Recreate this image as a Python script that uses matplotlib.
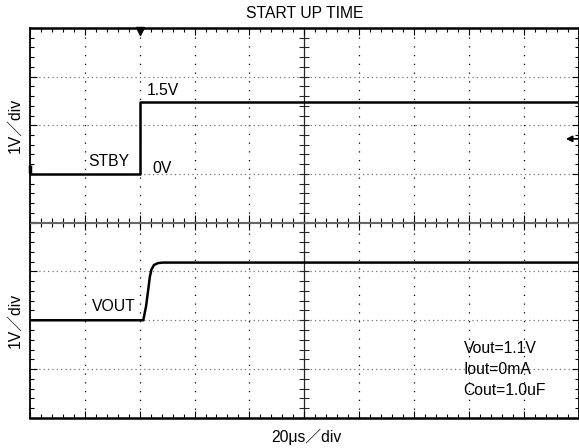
import numpy as np
import matplotlib
matplotlib.use("Agg")
import matplotlib.pyplot as plt
from matplotlib.ticker import MultipleLocator

plt.rcParams["font.family"] = ["Liberation Sans", "Noto Sans CJK JP", "DejaVu Sans"]

# time in µs (20 µs/div), level in V (1 V/div)
stby_t = [0, 40.2, 40.2, 200]
stby_v = [0, 0, 1.48, 1.48]
vout_t = [0, 41.3, 42.3, 43.1, 43.7, 44.3, 45.2, 46.7, 48.5, 200]
vout_v = [0, 0, 0.28, 0.62, 0.89, 1.04, 1.13, 1.17, 1.18, 1.18]
conditions = ["Vout=1.1V", "Iout=0mA", "Cout=1.0uF"]
trigger_t = 40
trig_level = 0.72

W, H = 579, 448
fig = plt.figure(figsize=(W / 100, H / 100), dpi=100)


def px_axes(x0, y0, x1, y1):
    return fig.add_axes([x0 / W, 1 - y1 / H, (x1 - x0) / W, (y1 - y0) / H])


ax_top = px_axes(30, 28, 578.5, 222.5)
ax_bot = px_axes(30, 222.5, 578.5, 418)

for ax, ylim in ((ax_top, (-1, 3)), (ax_bot, (-2, 2))):
    ax.set_xlim(0, 200); ax.set_ylim(*ylim)
    ax.xaxis.set_major_locator(MultipleLocator(20))
    ax.xaxis.set_minor_locator(MultipleLocator(4))
    ax.yaxis.set_major_locator(MultipleLocator(1))
    ax.yaxis.set_minor_locator(MultipleLocator(0.2))
    ax.tick_params(which="both", direction="in", top=True, bottom=True, left=True, right=True,
                   labelleft=False, labelbottom=False, color="k", width=0.8)
    ax.tick_params(which="major", length=5)
    ax.tick_params(which="minor", length=3.2)
    for x in range(20, 200, 20):
        if x != 100:
            ax.axvline(x, color="k", lw=0.9, ls=(0, (1, 6)), zorder=1)
    for y in range(int(ylim[0]) + 1, int(ylim[1])):
        ax.axhline(y, color="0.45", lw=0.9, ls=(0, (1, 2.5)), zorder=1)
    # solid centre line with its own ticks
    ax.axvline(100, color="0.15", lw=0.9, zorder=1)
    ys = np.arange(ylim[0], ylim[1] + 0.01, 0.2)
    ax.plot(np.full(len(ys), 100), ys, ls="none", marker="_", ms=7, mew=0.8, color="0.15", zorder=1)
    for s in ("left", "right"):
        ax.spines[s].set_linewidth(1.3)

ax_top.spines["top"].set_linewidth(1.8)
ax_bot.spines["bottom"].set_linewidth(1.8)
ax_top.spines["bottom"].set_color("0.4")
ax_bot.spines["top"].set_color("0.4")

ax_top.plot(stby_t, stby_v, color="k", lw=1.8, zorder=3)
ax_bot.plot(vout_t, vout_v, color="k", lw=1.8, zorder=3)

# scope markers: trigger position, STBY ground, trigger level
ax_top.plot([trigger_t], [2.93], marker="v", ms=5.5, color="k", clip_on=False, zorder=4)
ax_top.plot([0], [0.09], marker="|", ms=6, mew=2.5, color="k", clip_on=False, zorder=4)
ax_top.annotate("", xy=(195.4, trig_level), xytext=(200.5, trig_level),
                arrowprops=dict(arrowstyle="-|>", color="k", lw=1.2, mutation_scale=9,
                                shrinkA=0, shrinkB=0), annotation_clip=False)

fs = 11.3
ax_top.text(42.6, 1.71, "1.5V", fontsize=fs, ha="left", va="center")
ax_top.text(36.4, 0.25, "STBY", fontsize=fs, ha="right", va="center")
ax_top.text(44.8, 0.11, "0V", fontsize=fs, ha="left", va="center")
ax_bot.text(38.6, 0.29, "VOUT", fontsize=fs, ha="right", va="center")
for i, s in enumerate(conditions):
    ax_bot.text(158.1, -0.57 - 0.43 * i, s, fontsize=fs, ha="left", va="center")

fig.text(305 / W, 1 - 14 / H, "START UP TIME", fontsize=fs, ha="center", va="center")
fig.text(306 / W, 1 - 437 / H, "20μs／div", fontsize=fs, ha="center", va="center")
for yc in (125, 320):
    fig.text(15 / W, 1 - yc / H, "1V／div", fontsize=fs, ha="center", va="center", rotation=90)

fig.savefig("out.png", dpi=100, facecolor="white")
